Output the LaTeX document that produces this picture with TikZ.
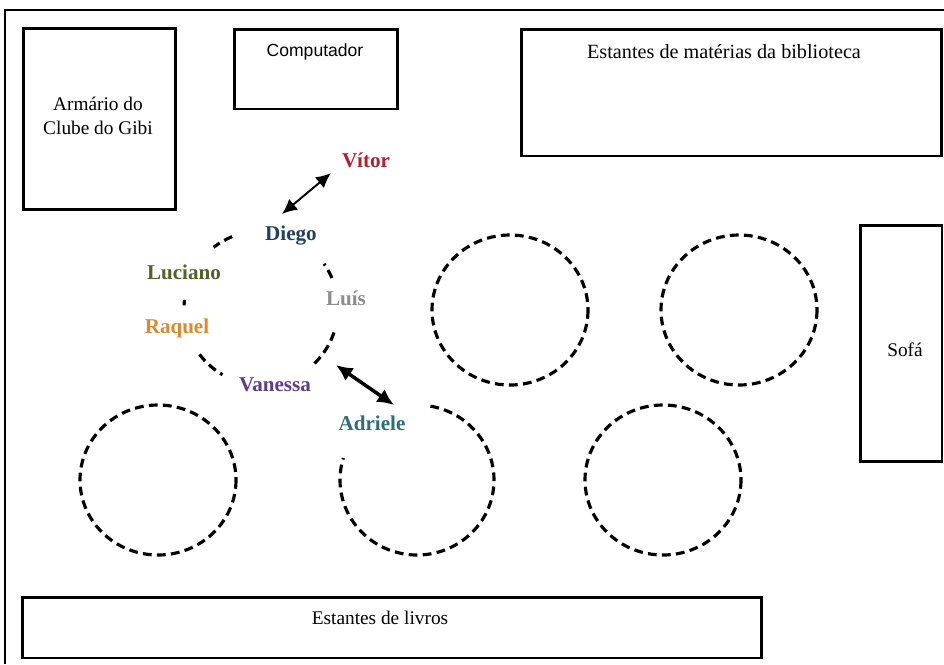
\documentclass[tikz,border=0pt]{standalone}
\usepackage{fontspec}
\setmainfont{Liberation Serif}
\newfontfamily\pcfont{Liberation Sans}
\usetikzlibrary{arrows.meta,positioning}
\definecolor{cvitor}{HTML}{B81E2C}
\definecolor{cdiego}{HTML}{243F60}
\definecolor{cluciano}{HTML}{4F6228}
\definecolor{cluis}{HTML}{8C8C8C}
\definecolor{craquel}{HTML}{DC8A30}
\definecolor{cvanessa}{HTML}{5F3C8C}
\definecolor{cadriele}{HTML}{2F6E78}
\tikzset{
  furniture/.style={draw=black, line width=1.7pt, inner sep=0pt},
  roomtext/.style={font=\fontsize{11}{14}\selectfont, align=center, inner sep=1pt},
  kid/.style={font=\fontsize{12}{14}\selectfont\bfseries, inner sep=1pt},
  mesa/.style={draw=black, line width=1.8pt, dash pattern=on 5pt off 3pt},
  talk/.style={{Latex[length=3mm,width=2.8mm]}-{Latex[length=3mm,width=2.8mm]},
               line width=1.1pt},
  talkbold/.style={{Latex[length=3.3mm,width=3.1mm]}-{Latex[length=3.3mm,width=3.1mm]},
               line width=2pt},
}

\begin{document}
\begin{tikzpicture}[x=0.02cm, y=-0.02cm]
\useasboundingbox (0,0) rectangle (944,664);

% ---- room frame ----------------------------------------------------
\draw[line width=0.8pt] (5,664) -- (5,10) -- (944,10);

% ---- furniture -----------------------------------------------------
\node[furniture, minimum width=3.04cm, minimum height=3.62cm] (armario) at (99.5,119) {};
\node[roomtext] (armariotxt) at (98,116) {Armário do\\ Clube do Gibi};

\node[furniture, minimum width=3.26cm, minimum height=1.6cm] (comp) at (316,69) {};
\node[roomtext, font=\pcfont\fontsize{10}{12}\selectfont] (comptxt) at (315,52) {Computador};

\node[furniture, minimum width=8.42cm, minimum height=2.54cm] (materias) at (731.5,92.5) {};
\node[roomtext, font=\fontsize{11.5}{14}\selectfont] (materiastxt) at (724,52)
     {Estantes de matérias da biblioteca};

\node[furniture, minimum width=1.64cm, minimum height=4.74cm] (sofa) at (901,343.5) {};
\node[roomtext] (sofatxt) at (905,350) {Sofá};

\node[furniture, minimum width=14.8cm, minimum height=1.22cm] (livros) at (392,627.5) {};
\node[roomtext] (livrostxt) at (380,618) {Estantes de livros};

% ---- tables --------------------------------------------------------
\foreach \cx/\cy in {510/310, 739/310, 158/480, 663/480}
  \draw[mesa] (\cx,\cy) ellipse [x radius=78, y radius=75];

% table with the group (only the visible pieces)
\coordinate (grupo) at (261,308);
\foreach \a/\b in {-112/-128, -23/-35, -174/-178, -217/-240, 46/17}
  \draw[mesa] (grupo) ++(\a:77) arc [start angle=\a, end angle=\b, radius=77];

\coordinate (mesaadr) at (417,480);
\draw[mesa] (mesaadr) ++(-80:77 and 75)
      arc [start angle=-80, end angle=197, x radius=77, y radius=75];

% ---- kids ----------------------------------------------------------
\node[kid, text=cvitor]   (vitor)   at (366,160) {Vítor};
\node[kid, text=cdiego]   (diego)   at (291,236) {Diego};
\node[kid, text=cluciano] (luciano) at (184,272) {Luciano};
\node[kid, text=cluis]    (luis)    at (346,298) {Luís};
\node[kid, text=craquel]  (raquel)  at (177,328) {Raquel};
\node[kid, text=cvanessa] (vanessa) at (275,385) {Vanessa};
\node[kid, text=cadriele] (adriele) at (372,423) {Adriele};

\draw[talk] ([shift={(-9,-22)}]diego.center) -- ([shift={(-35,13)}]vitor.center);
\draw[talkbold] ([shift={(61,-20)}]vanessa.center) -- ([shift={(22,-18)}]adriele.center);
\end{tikzpicture}
\end{document}
